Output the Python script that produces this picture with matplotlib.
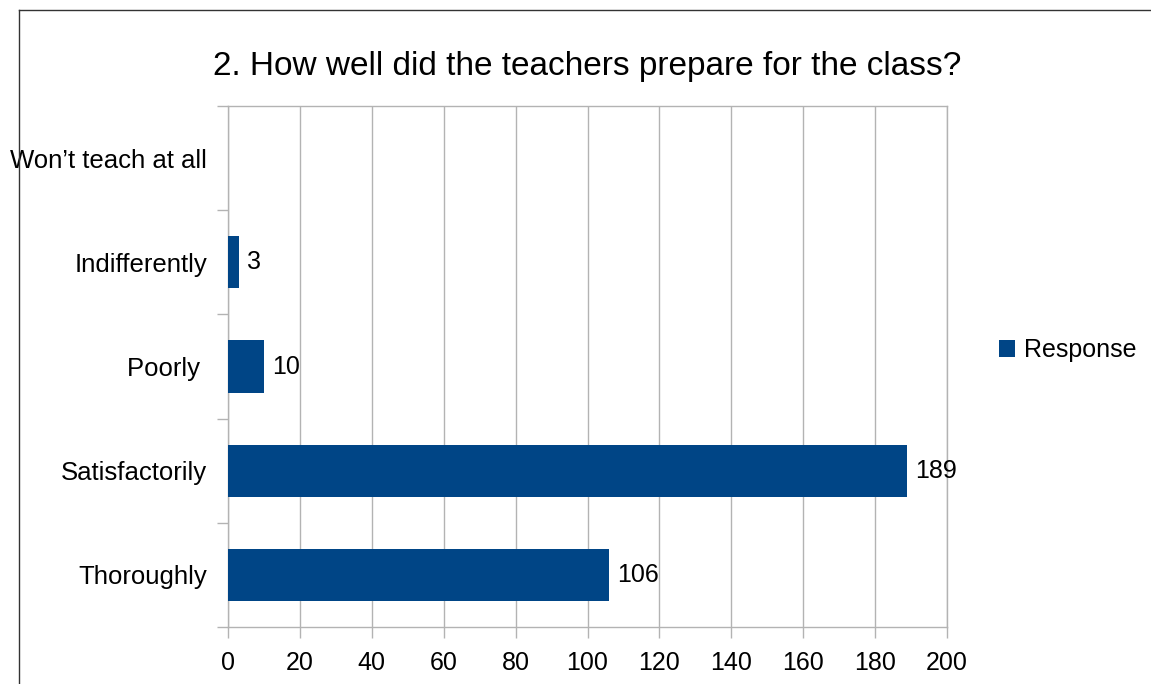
import matplotlib
matplotlib.use("Agg")
import matplotlib.pyplot as plt
from matplotlib.lines import Line2D
from matplotlib.patches import Patch

categories = ["Thoroughly", "Satisfactorily", "Poorly ", "Indifferently", "Won\u2019t teach at all"]
values = [106, 189, 10, 3, 0]
x_ticks = [0, 20, 40, 60, 80, 100, 120, 140, 160, 180, 200]
title = "2. How well did the teachers prepare for the class?"
series_name = "Response"

plt.rcParams["font.family"] = ["Liberation Sans", "DejaVu Sans"]

W, H = 1151, 684
fig = plt.figure(figsize=(W / 100, H / 100), dpi=100)
ax = fig.add_axes([228 / W, 1 - 627 / H, (947 - 228) / W, (627 - 106) / H])

bar_color = "#004586"
grid_color = "#b3b3b3"
fs = 18
ypos = list(range(len(categories)))
ax.barh(ypos, values, height=0.5, color=bar_color, zorder=3)

for y, v in zip(ypos, values):
    if v > 0:
        ax.text(v + 2.2, y, str(v), va="center", ha="left", fontsize=fs, color="#000000")

ax.set_xlim(0, 200)
ax.set_ylim(-0.5, len(categories) - 0.5)
ax.set_xticks(x_ticks)
ax.set_xticklabels([str(t) for t in x_ticks], fontsize=fs)
ax.set_yticks(ypos)
ax.set_yticklabels(categories, fontsize=18.5)
ax.set_yticks([i - 0.5 for i in range(len(categories) + 1)], minor=True)

ax.tick_params(axis="y", which="major", length=0, pad=15)
ax.tick_params(axis="y", which="minor", length=8, color=grid_color, width=1)
ax.tick_params(axis="x", which="major", length=8, color=grid_color, width=1, pad=9)

ax.grid(axis="x", color=grid_color, linewidth=1, zorder=0)
for s in ax.spines.values():
    s.set_color(grid_color)
    s.set_linewidth(1)

ax.set_title(title, fontsize=24, pad=22)

fig.legend(handles=[Patch(facecolor=bar_color, label=series_name)],
           loc="center left", bbox_to_anchor=(999 / W, 1 - 350 / H),
           frameon=False, fontsize=fs, handlelength=0.65, handleheight=0.65,
           handletextpad=0.35, borderaxespad=0, borderpad=0)

# outer border lines (left and top)
fig.add_artist(Line2D([19 / W, 19 / W], [0, 1 - 10 / H], color="#333333", lw=1, transform=fig.transFigure))
fig.add_artist(Line2D([19 / W, 1], [1 - 10 / H, 1 - 10 / H], color="#333333", lw=1, transform=fig.transFigure))

fig.savefig("out.png", dpi=100)
